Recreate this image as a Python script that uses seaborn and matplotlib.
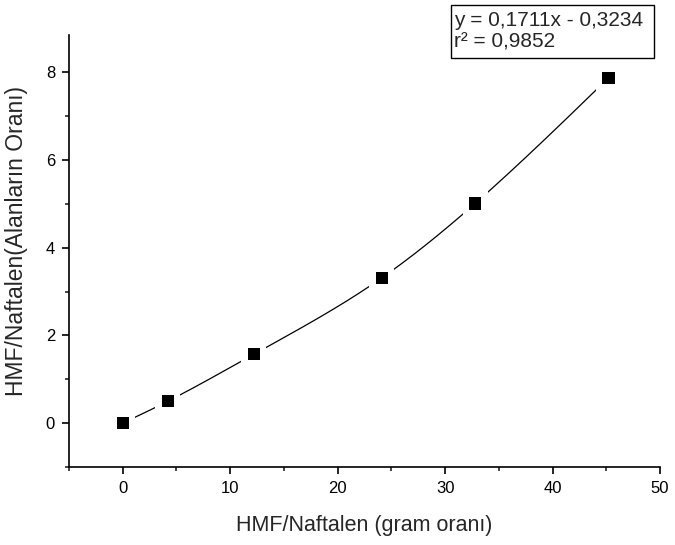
import numpy as np
import seaborn as sns
import matplotlib
matplotlib.use("Agg")
import matplotlib.pyplot as plt
from matplotlib.ticker import MultipleLocator
from matplotlib.patches import Rectangle

# okunan veriler
gram_orani = [0.0, 4.2, 12.2, 24.1, 32.8, 45.2]
alan_orani = [0.0, 0.50, 1.57, 3.31, 5.01, 7.87]
x_ticks = [0, 10, 20, 30, 40, 50]
y_ticks = [0, 2, 4, 6, 8]
denklem = ["y = 0,1711x - 0,3234", "r² = 0,9852"]


def natural_spline(x, y, n=300):
    # noktalardan geçen doğal kübik eğri (sadece çizim için)
    x = np.asarray(x, float)
    y = np.asarray(y, float)
    k = len(x)
    h = np.diff(x)
    A = np.zeros((k, k))
    b = np.zeros(k)
    A[0, 0] = A[-1, -1] = 1
    for i in range(1, k - 1):
        A[i, i - 1] = h[i - 1]
        A[i, i] = 2 * (h[i - 1] + h[i])
        A[i, i + 1] = h[i]
        b[i] = 6 * ((y[i + 1] - y[i]) / h[i] - (y[i] - y[i - 1]) / h[i - 1])
    M = np.linalg.solve(A, b)
    xs = np.linspace(x[0], x[-1], n)
    idx = np.clip(np.searchsorted(x, xs) - 1, 0, k - 2)
    x0, x1 = x[idx], x[idx + 1]
    hh = x1 - x0
    ys = (M[idx] * (x1 - xs) ** 3 + M[idx + 1] * (xs - x0) ** 3) / (6 * hh) \
        + (y[idx] / hh - M[idx] * hh / 6) * (x1 - xs) \
        + (y[idx + 1] / hh - M[idx + 1] * hh / 6) * (xs - x0)
    return xs, ys


sns.set_style("ticks")
plt.rcParams["font.family"] = ["Liberation Sans", "DejaVu Sans"]

fig = plt.figure(figsize=(6.75, 5.45), dpi=100)
ax = fig.add_axes([0.1022, 0.1431, 0.8756, 0.7927])

xs, ys = natural_spline(gram_orani, alan_orani)
sns.lineplot(x=xs, y=ys, sort=False, color="black", linewidth=0.9, ax=ax, zorder=1)
# beyaz boşluk + siyah kare işaretler
sns.scatterplot(x=gram_orani, y=alan_orani, marker="s", s=330, color="white",
                edgecolor="none", ax=ax, zorder=2)
sns.scatterplot(x=gram_orani, y=alan_orani, marker="s", s=78, color="black",
                edgecolor="none", ax=ax, zorder=3)

ax.set_xlim(-5, 50)
ax.set_ylim(-1, 8.85)
ax.set_xticks(x_ticks)
ax.set_yticks(y_ticks)
ax.xaxis.set_minor_locator(MultipleLocator(5))
ax.yaxis.set_minor_locator(MultipleLocator(1))
ax.tick_params(which="major", direction="out", length=5, width=1.2, labelsize=12,
               colors="black", pad=5)
ax.tick_params(which="minor", direction="out", length=3, width=1.2)
for s in ["top", "right"]:
    ax.spines[s].set_visible(False)
for s in ["left", "bottom"]:
    ax.spines[s].set_linewidth(1.2)
    ax.spines[s].set_color("black")

ax.set_xlabel("HMF/Naftalen (gram oranı)", fontsize=15.5, labelpad=14)
ax.set_ylabel("HMF/Naftalen(Alanların Oranı)", fontsize=16.5)
ax.yaxis.set_label_coords(-0.070, 0.523)

# denklem kutusu
fig.patches.append(Rectangle((0.668, 0.8936), 0.3007, 0.0972, transform=fig.transFigure,
                             facecolor="white", edgecolor="black", linewidth=1.0))
fig.text(0.673, 0.9633, denklem[0], ha="left", va="center", fontsize=15)
fig.text(0.673, 0.9229, denklem[1], ha="left", va="center", fontsize=15)

fig.savefig("out.png", dpi=100)
